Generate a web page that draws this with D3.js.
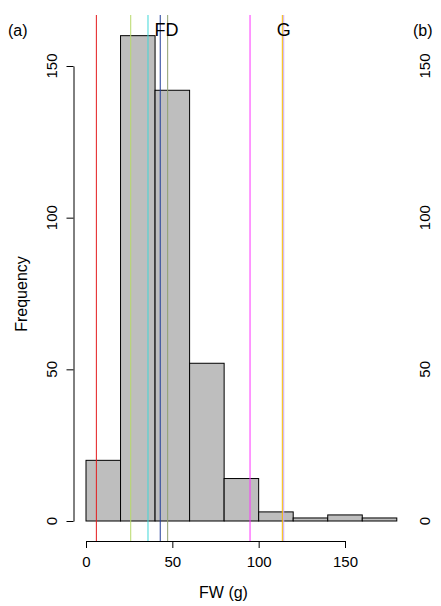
<!DOCTYPE html>
<html><head><meta charset="utf-8">
<script src="https://cdn.jsdelivr.net/npm/d3@7"></script>
<style>body{margin:0;background:#fff}text{font-family:"Liberation Sans",Arial,sans-serif}</style>
</head><body><svg id="c" width="441" height="606"></svg>
<script>
const binEdges = [0,20,40,60,80,100,120,140,160,180];
const counts = [20,160,142,52,14,3,1,2,1];
const vlines = [
  {x:6, color:"#e41a1c"},
  {x:25.9, color:"#b8d96a"},
  {x:35.9, color:"#40d8d8"},
  {x:43, color:"#1f3c99"},
  {x:47.3, color:"#8fa070"},
  {x:95, color:"#ff33ff"},
  {x:114.5, color:"#c8a8f0"},
  {x:113.7, color:"#f5b800"}
];
const labels = [{x:42.8,t:"F"},{x:49.8,t:"D"},{x:114.5,t:"G"}];
const xTicks = [0,50,100,150];
const yTicks = [0,50,100,150];

const svg = d3.select("#c");
const x = d3.scaleLinear().domain([0,150]).range([86,345]);
const y = d3.scaleLinear().domain([0,150]).range([521,66]);

svg.selectAll("rect.bar").data(counts).join("rect")
  .attr("x",(d,i)=>x(binEdges[i])).attr("width",(d,i)=>x(binEdges[i+1])-x(binEdges[i]))
  .attr("y",d=>y(d)).attr("height",d=>y(0)-y(d))
  .attr("fill","#bebebe").attr("stroke","#000").attr("stroke-width",1);

svg.selectAll("line.v").data(vlines).join("line")
  .attr("x1",d=>x(d.x)).attr("x2",d=>x(d.x)).attr("y1",15).attr("y2",541)
  .attr("stroke",d=>d.color).attr("stroke-width",1);

svg.selectAll("text.lab").data(labels).join("text")
  .attr("x",d=>x(d.x)).attr("y",36).attr("text-anchor","middle")
  .attr("font-size",18).text(d=>d.t);

const xa = svg.append("g").attr("transform","translate(0,541)")
  .call(d3.axisBottom(x).tickValues(xTicks).tickSize(7).tickSizeOuter(0).tickPadding(8));
xa.selectAll("text").attr("font-size",15).attr("fill","#000");
xa.selectAll("line,path").attr("stroke","#000");

const ya = svg.append("g").attr("transform","translate(73.5,0)")
  .call(d3.axisLeft(y).tickValues(yTicks).tickSize(7).tickSizeOuter(0).tickFormat(d3.format("d")));
ya.selectAll("line,path").attr("stroke","#000");
ya.selectAll("text").remove();
yTicks.forEach(v=>{
  svg.append("text").attr("transform",`translate(57,${y(v)}) rotate(-90)`)
    .attr("text-anchor","middle").attr("font-size",15).text(v);
  svg.append("text").attr("transform",`translate(430,${y(v)}) rotate(-90)`)
    .attr("text-anchor","middle").attr("font-size",15).text(v);
});

svg.append("text").attr("x",(x(0)+x(150))/2+8).attr("y",598).attr("text-anchor","middle")
  .attr("font-size",16).text("FW (g)");
svg.append("text").attr("transform","translate(27,294) rotate(-90)").attr("text-anchor","middle")
  .attr("font-size",16).text("Frequency");
svg.append("text").attr("x",8).attr("y",36).attr("font-size",16).text("(a)");
svg.append("text").attr("x",413).attr("y",36).attr("font-size",16).text("(b)");
</script></body></html>
